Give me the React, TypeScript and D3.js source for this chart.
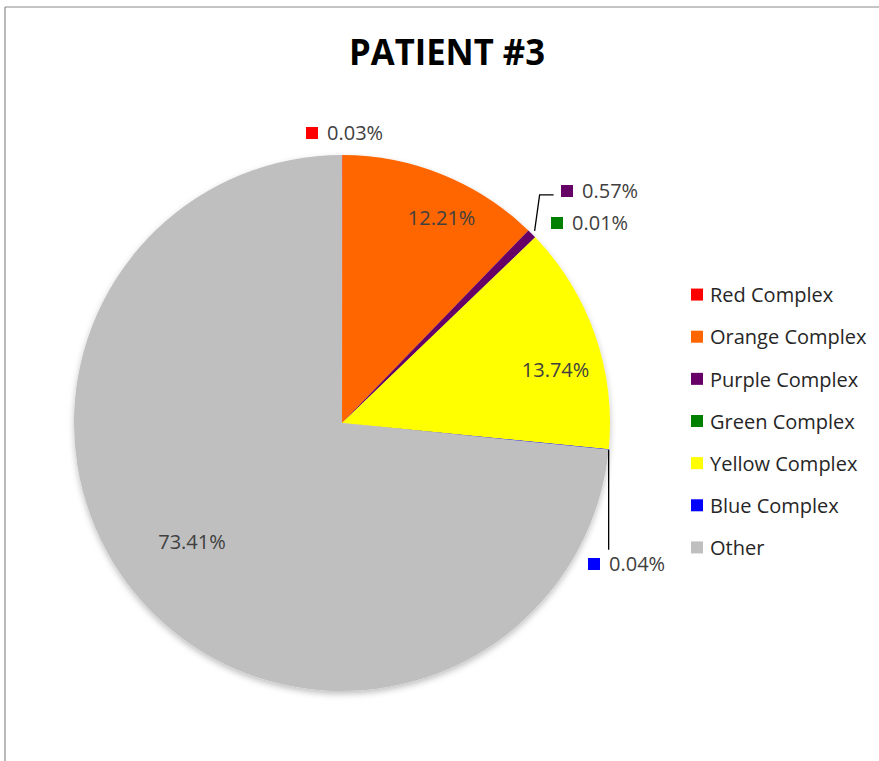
import React from "react";
import * as d3 from "d3";

const categories = ["Red Complex", "Orange Complex", "Purple Complex", "Green Complex", "Yellow Complex", "Blue Complex", "Other"];
const values = [0.03, 12.21, 0.57, 0.01, 13.74, 0.04, 73.41];
const labels = ["0.03%", "12.21%", "0.57%", "0.01%", "13.74%", "0.04%", "73.41%"];
const colors = ["#FF0000", "#FF6600", "#660066", "#008000", "#FFFF00", "#0000FF", "#BFBFBF"];
const title = "PATIENT #3";

const W = 879, H = 761;
const cx = 342, cy = 423, R = 268;
const FONT = "'Open Sans', sans-serif";

// label placement: inside labels (nudge from centroid) or outside labels (offset box + leader)
type LabelLayout =
  | { kind: "inside"; dx: number; dy: number }
  | { kind: "outside"; sx: number; sy: number; leader: [number, number][] | null };

const layout: LabelLayout[] = [
  { kind: "outside", sx: -36, sy: -290, leader: null },
  { kind: "inside", dx: 19, dy: -6 },
  { kind: "outside", sx: 219, sy: -232, leader: [[0, 0], [5, -36], [19, -36]] },
  { kind: "outside", sx: 209, sy: -200, leader: null },
  { kind: "inside", dx: 11, dy: 17 },
  { kind: "outside", sx: 246, sy: 141, leader: [[0, 0], [0, 100]] },
  { kind: "inside", dx: 9, dy: -25 },
];

export default function App() {
  const pie = d3.pie<number>().sort(null).value((d) => d).startAngle(0).endAngle(2 * Math.PI);
  const arcs = pie(values);
  const arc = d3.arc<d3.PieArcDatum<number>>().innerRadius(0).outerRadius(R);
  const labelArc = d3.arc<d3.PieArcDatum<number>>().innerRadius(R * 0.8).outerRadius(R * 0.8);

  const legendY = d3.scaleBand<string>().domain(categories).range([274, 569]);

  return (
    <svg width={W} height={H} style={{ position: "absolute", left: 0, top: 0, background: "#fff" }}>
      <defs>
        <filter id="sh" x="-20%" y="-20%" width="140%" height="140%">
          <feDropShadow dx="0" dy="3" stdDeviation="3" floodColor="#000" floodOpacity="0.25" />
        </filter>
      </defs>
      <rect x={0} y={0} width={W} height={H} fill="#fff" />
      <line x1={5} y1={7} x2={W} y2={7} stroke="#8a8a8a" strokeWidth={1.2} />
      <line x1={5} y1={7} x2={5} y2={H} stroke="#8a8a8a" strokeWidth={1.2} />

      <text x={447} y={65} textAnchor="middle" fontFamily={FONT} fontWeight={700} fontSize={36}
        textLength={196} lengthAdjust="spacingAndGlyphs" fill="#000">{title}</text>

      <g transform={`translate(${cx},${cy})`}>
        <g filter="url(#sh)">
          {arcs.map((a, i) => (
            <path key={i} d={arc(a) || ""} fill={colors[i]} />
          ))}
        </g>
        {arcs.map((a, i) => {
          const L = layout[i];
          if (L.kind === "inside") {
            const [x, y] = labelArc.centroid(a);
            return (
              <text key={"l" + i} x={x + L.dx} y={y + L.dy} dy="0.35em" textAnchor="middle"
                fontFamily={FONT} fontSize={20} fill="#404040">{labels[i]}</text>
            );
          }
          const ang = a.endAngle;
          const ex = R * Math.sin(ang), ey = -R * Math.cos(ang);
          const mid = (a.startAngle + a.endAngle) / 2;
          const mx = (R + 4) * Math.sin(mid), my = -(R + 4) * Math.cos(mid);
          const bx = (i === 5 ? ex : mx);
          const by = (i === 5 ? ey : my);
          return (
            <g key={"o" + i}>
              {L.leader && (
                <polyline
                  points={L.leader.map(([px, py]) => `${bx + px},${by + py}`).join(" ")}
                  fill="none" stroke="#000" strokeWidth={1.3} />
              )}
              <rect x={L.sx} y={L.sy - 6} width={12} height={12} fill={colors[i]} />
              <text x={L.sx + 21} y={L.sy} dy="0.36em" fontFamily={FONT} fontSize={20} fill="#404040">{labels[i]}</text>
            </g>
          );
        })}
      </g>

      <g>
        {categories.map((c, i) => {
          const y = (legendY(c) || 0) + legendY.bandwidth() / 2;
          return (
            <g key={c}>
              <rect x={691} y={y - 6.5} width={12} height={12} fill={colors[i]} />
              <text x={710} y={y} dy="0.36em" fontFamily={FONT} fontSize={20} fill="#262626">{c}</text>
            </g>
          );
        })}
      </g>
    </svg>
  );
}
